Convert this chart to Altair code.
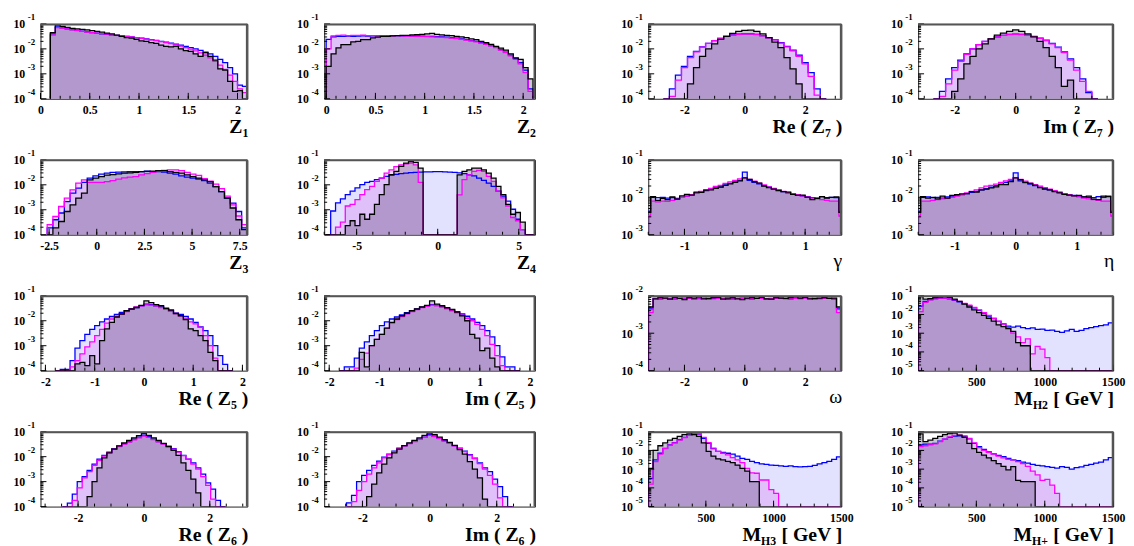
import altair as alt
import pandas as pd

SERIF = "Liberation Serif"

# ---------------- data: log10 of normalised bin contents (-9 = empty bin) ----------------
# Z1 : bins from 0.1, width 0.05
z1_b = [-1.4, -1.12, -1.16, -1.2, -1.23, -1.26, -1.29, -1.32, -1.35, -1.37, -1.4, -1.42, -1.44, -1.46, -1.48, -1.5, -1.52, -1.55, -1.57, -1.6, -1.63, -1.66, -1.7, -1.73, -1.77, -1.81, -1.85, -1.9, -1.95, -2.0, -2.06, -2.13, -2.2, -2.3, -2.42, -2.55, -2.75, -3.0, -3.45, -3.5]
z1_m = [-1.45, -1.15, -1.17, -1.2, -1.24, -1.27, -1.3, -1.33, -1.35, -1.37, -1.39, -1.41, -1.44, -1.46, -1.48, -1.5, -1.52, -1.55, -1.58, -1.61, -1.64, -1.67, -1.71, -1.75, -1.79, -1.84, -1.89, -1.95, -2.01, -2.08, -2.16, -2.25, -2.36, -2.5, -2.65, -2.82, -3.05, -3.3, -3.6, -3.75]
z1_k = [-1.35, -1.05, -1.1, -1.14, -1.18, -1.2, -1.22, -1.24, -1.27, -1.3, -1.33, -1.37, -1.4, -1.45, -1.5, -1.55, -1.57, -1.62, -1.68, -1.7, -1.75, -1.78, -1.85, -1.9, -1.92, -1.9, -2.0, -2.07, -2.1, -2.2, -2.3, -2.15, -2.3, -2.45, -2.8, -2.85, -3.3, -3.7, -3.67, -9]
# Z2 : bins from 0, width 0.05
z2_b = [-1.62, -1.52, -1.5, -1.5, -1.49, -1.5, -1.49, -1.48, -1.49, -1.48, -1.48, -1.47, -1.48, -1.47, -1.47, -1.48, -1.47, -1.48, -1.48, -1.49, -1.5, -1.5, -1.51, -1.52, -1.53, -1.55, -1.57, -1.6, -1.63, -1.67, -1.7, -1.75, -1.8, -1.87, -1.93, -2.03, -2.13, -2.25, -2.38, -2.55, -2.85, -3.6]
z2_m = [-2.0, -1.48, -1.46, -1.45, -1.47, -1.46, -1.46, -1.45, -1.47, -1.47, -1.48, -1.47, -1.48, -1.48, -1.47, -1.48, -1.49, -1.49, -1.5, -1.5, -1.51, -1.52, -1.53, -1.54, -1.55, -1.57, -1.59, -1.62, -1.65, -1.68, -1.72, -1.77, -1.82, -1.88, -1.95, -2.05, -2.15, -2.28, -2.42, -2.6, -2.95, -3.7]
z2_k = [-2.7, -2.2, -1.96, -1.83, -1.83, -1.72, -1.7, -1.63, -1.63, -1.56, -1.53, -1.5, -1.5, -1.48, -1.47, -1.46, -1.46, -1.44, -1.43, -1.42, -1.4, -1.38, -1.42, -1.44, -1.46, -1.47, -1.5, -1.52, -1.55, -1.6, -1.63, -1.7, -1.75, -1.82, -1.9, -1.97, -2.05, -2.2, -2.36, -2.42, -2.75, -3.2]
# Re(Z7), Im(Z7) : bins from -2.7, width 0.2
re7_b = [-9, -3.6, -3.05, -2.7, -2.3, -2.1, -1.92, -1.78, -1.67, -1.58, -1.5, -1.44, -1.41, -1.4, -1.4, -1.42, -1.47, -1.55, -1.63, -1.75, -1.9, -2.05, -2.25, -2.55, -2.95, -3.6, -9]
re7_m = [-9, -3.9, -3.25, -2.75, -2.35, -2.12, -1.93, -1.78, -1.67, -1.58, -1.5, -1.45, -1.42, -1.41, -1.41, -1.43, -1.48, -1.56, -1.64, -1.77, -1.92, -2.08, -2.3, -2.6, -3.1, -3.85, -9]
re7_k = [-9, -9, -9, -9, -3.4, -2.75, -2.3, -2.0, -1.8, -1.62, -1.5, -1.38, -1.3, -1.26, -1.25, -1.3, -1.4, -1.55, -1.73, -1.95, -2.35, -2.8, -3.4, -9, -9, -9, -9]
im7_b = [-9, -3.7, -3.2, -2.75, -2.45, -2.2, -2.0, -1.83, -1.7, -1.6, -1.52, -1.46, -1.42, -1.41, -1.42, -1.45, -1.5, -1.57, -1.65, -1.78, -1.93, -2.12, -2.4, -2.75, -3.2, -3.75, -9]
im7_m = [-9, -3.9, -3.4, -2.85, -2.5, -2.22, -2.0, -1.83, -1.7, -1.6, -1.52, -1.46, -1.43, -1.42, -1.43, -1.46, -1.51, -1.58, -1.67, -1.8, -1.95, -2.15, -2.45, -2.85, -3.3, -3.7, -9]
im7_k = [-9, -9, -9, -3.7, -3.2, -2.6, -2.3, -2.0, -1.8, -1.6, -1.45, -1.37, -1.3, -1.24, -1.3, -1.4, -1.52, -1.7, -1.95, -2.3, -2.75, -3.5, -3.25, -9, -9, -9, -9]
# Z3 : bins from -2.6, width 0.3
z3_b = [-3.73, -3.4, -3.13, -2.67, -2.33, -2.13, -1.9, -1.73, -1.64, -1.57, -1.53, -1.5, -1.49, -1.48, -1.47, -1.47, -1.47, -1.45, -1.47, -1.47, -1.49, -1.53, -1.57, -1.64, -1.69, -1.73, -1.77, -1.83, -1.93, -2.07, -2.27, -2.53, -2.73, -3.07, -3.73]
z3_m = [-3.6, -3.27, -2.87, -2.53, -2.2, -1.93, -1.8, -1.9, -1.9, -1.9, -1.87, -1.83, -1.77, -1.72, -1.69, -1.67, -1.6, -1.55, -1.5, -1.45, -1.42, -1.4, -1.4, -1.43, -1.5, -1.57, -1.62, -1.75, -1.85, -1.97, -2.15, -2.45, -2.8, -3.25, -3.6]
z3_k = [-9, -3.73, -3.47, -3.07, -2.8, -2.53, -2.33, -1.8, -1.73, -1.67, -1.61, -1.59, -1.56, -1.53, -1.52, -1.5, -1.47, -1.46, -1.45, -1.43, -1.43, -1.47, -1.5, -1.53, -1.6, -1.67, -1.73, -1.8, -1.87, -2.07, -2.27, -2.53, -2.93, -3.4, -3.8]
# Z4 : bins from -6.9, width 0.3
z4_b = [-9, -3.05, -2.72, -2.56, -2.39, -2.25, -2.12, -1.99, -1.9, -1.86, -1.79, -1.73, -1.66, -1.61, -1.58, -1.55, -1.53, -1.51, -1.5, -1.49, -1.48, -1.48, -1.47, -1.47, -1.48, -1.49, -1.5, -1.52, -1.55, -1.6, -1.64, -1.73, -1.82, -1.93, -2.06, -2.25, -2.45, -2.65, -2.98, -3.38, -3.8, -9, -9]
z4_m = [-9, -9, -3.7, -3.5, -2.85, -2.78, -2.59, -2.39, -2.19, -2.06, -1.86, -1.73, -1.53, -1.4, -1.27, -1.2, -1.16, -1.13, -1.2, -1.9, -9, -9, -9, -9, -9, -9, -9, -2.4, -1.79, -1.6, -1.46, -1.42, -1.46, -1.66, -1.86, -2.25, -2.52, -2.85, -3.31, -3.44, -3.8, -9, -9]
z4_k = [-9, -9, -9, -9, -3.64, -3.44, -3.64, -3.18, -3.38, -3.18, -2.78, -2.39, -1.99, -1.59, -1.46, -1.26, -1.13, -1.07, -1.1, -1.33, -9, -9, -9, -9, -9, -9, -9, -1.6, -1.46, -1.4, -1.33, -1.33, -1.4, -1.53, -1.73, -2.06, -2.39, -2.78, -3.18, -3.11, -3.5, -9, -9]
# gamma, eta : bins from -1.64, width 0.08
ga_b = [-2.37, -2.0, -2.01, -2.0, -2.02, -2.01, -2.03, -2.0, -1.97, -1.93, -1.88, -1.85, -1.82, -1.79, -1.75, -1.72, -1.67, -1.63, -1.59, -1.55, -1.33, -1.55, -1.6, -1.64, -1.69, -1.72, -1.77, -1.8, -1.85, -1.88, -1.91, -1.94, -1.96, -1.98, -2.01, -2.02, -1.98, -2.01, -2.0, -2.01, -2.37]
ga_m = [-2.5, -2.1, -2.12, -2.1, -2.11, -2.08, -2.05, -2.0, -1.97, -1.93, -1.88, -1.84, -1.8, -1.76, -1.71, -1.68, -1.63, -1.59, -1.55, -1.51, -1.48, -1.52, -1.57, -1.62, -1.67, -1.72, -1.76, -1.8, -1.84, -1.87, -1.9, -1.93, -1.96, -1.99, -2.02, -2.04, -2.06, -2.08, -2.1, -2.1, -2.5]
ga_k = [-2.4, -1.98, -2.08, -2.03, -2.06, -1.99, -2.05, -1.96, -1.92, -1.94, -1.86, -1.87, -1.81, -1.8, -1.76, -1.73, -1.68, -1.64, -1.6, -1.56, -1.48, -1.52, -1.58, -1.62, -1.7, -1.74, -1.78, -1.82, -1.85, -1.86, -1.92, -1.95, -1.94, -2.0, -2.06, -2.03, -1.98, -2.02, -2.0, -1.99, -2.4]
et_b = [-2.37, -2.0, -1.99, -2.01, -2.0, -2.02, -1.99, -1.97, -1.95, -1.93, -1.9, -1.87, -1.84, -1.8, -1.77, -1.73, -1.69, -1.65, -1.6, -1.56, -1.35, -1.56, -1.61, -1.65, -1.69, -1.73, -1.77, -1.8, -1.84, -1.87, -1.9, -1.93, -1.95, -1.97, -1.99, -2.0, -2.01, -1.98, -2.0, -1.97, -2.37]
et_m = [-2.5, -2.1, -2.1, -2.08, -2.06, -2.04, -2.02, -2.0, -1.97, -1.93, -1.88, -1.84, -1.8, -1.75, -1.7, -1.68, -1.65, -1.6, -1.56, -1.52, -1.48, -1.52, -1.57, -1.62, -1.66, -1.7, -1.74, -1.78, -1.82, -1.86, -1.9, -1.93, -1.96, -1.99, -2.02, -2.04, -2.06, -2.08, -2.1, -2.1, -2.5]
et_k = [-2.4, -1.98, -2.02, -2.0, -2.04, -1.97, -2.02, -1.95, -1.93, -1.91, -1.9, -1.85, -1.86, -1.8, -1.78, -1.75, -1.72, -1.66, -1.66, -1.58, -1.48, -1.53, -1.6, -1.63, -1.68, -1.74, -1.78, -1.8, -1.85, -1.88, -1.92, -1.94, -1.96, -1.95, -1.99, -1.97, -2.05, -2.06, -1.97, -1.98, -2.4]
# Re(Z5), Im(Z5) : bins from -1.8, width 0.1
re5_b = [-9, -3.95, -3.95, -3.6, -3.1, -2.8, -2.55, -2.35, -2.2, -2.05, -1.93, -1.83, -1.75, -1.67, -1.6, -1.52, -1.47, -1.4, -1.33, -1.35, -1.4, -1.45, -1.52, -1.6, -1.7, -1.75, -1.83, -1.93, -2.07, -2.25, -2.4, -2.6, -3.0, -3.4, -3.75, -9]
re5_m = [-9, -9, -9, -3.85, -3.6, -3.33, -3.05, -2.85, -2.6, -2.35, -2.1, -1.93, -1.83, -1.73, -1.63, -1.53, -1.45, -1.4, -1.36, -1.37, -1.4, -1.47, -1.53, -1.62, -1.71, -1.8, -1.93, -2.05, -2.13, -2.27, -2.6, -3.0, -3.5, -9, -9, -9]
re5_k = [-9, -9, -9, -9, -3.73, -3.67, -3.8, -3.4, -3.73, -2.8, -2.33, -2.07, -1.85, -1.73, -1.6, -1.53, -1.47, -1.38, -1.2, -1.27, -1.35, -1.4, -1.5, -1.57, -1.71, -1.8, -1.95, -2.33, -2.4, -2.6, -2.8, -3.27, -3.6, -9, -9, -9]
im5_b = [-9, -3.85, -3.85, -3.5, -3.1, -2.85, -2.6, -2.4, -2.2, -2.05, -1.93, -1.85, -1.77, -1.68, -1.6, -1.53, -1.46, -1.4, -1.35, -1.38, -1.43, -1.5, -1.57, -1.65, -1.73, -1.82, -1.93, -2.07, -2.2, -2.4, -2.65, -3.0, -3.45, -3.85, -3.85, -9]
im5_m = [-9, -9, -9, -3.9, -3.55, -3.3, -3.0, -2.75, -2.55, -2.3, -2.1, -1.95, -1.83, -1.72, -1.63, -1.55, -1.47, -1.42, -1.37, -1.4, -1.45, -1.52, -1.6, -1.68, -1.78, -1.9, -2.0, -2.15, -2.35, -2.6, -2.95, -3.4, -3.8, -9, -9, -9]
im5_k = [-9, -9, -9, -9, -3.27, -3.85, -3.0, -2.75, -2.55, -2.3, -2.07, -1.93, -1.8, -1.7, -1.6, -1.53, -1.45, -1.38, -1.2, -1.33, -1.4, -1.48, -1.55, -1.65, -1.8, -2.0, -2.55, -2.7, -3.2, -3.1, -3.5, -3.85, -9, -9, -9, -9]
# omega : bins from -3.2, width 0.16
om_b = [-2.35, -2.07, -2.08, -2.06, -2.07, -2.08, -2.07, -2.06, -2.07, -2.08, -2.06, -2.07, -2.08, -2.07, -2.06, -2.07, -2.09, -2.08, -2.07, -2.06, -2.07, -2.08, -2.07, -2.06, -2.08, -2.09, -2.07, -2.06, -2.07, -2.08, -2.07, -2.06, -2.05, -2.07, -2.08, -2.07, -2.06, -2.07, -2.08, -2.35]
om_m = [-2.45, -2.08, -2.07, -2.07, -2.08, -2.06, -2.07, -2.08, -2.07, -2.07, -2.08, -2.06, -2.07, -2.08, -2.07, -2.07, -2.06, -2.08, -2.07, -2.07, -2.08, -2.07, -2.06, -2.07, -2.08, -2.07, -2.07, -2.06, -2.08, -2.07, -2.07, -2.08, -2.06, -2.07, -2.07, -2.08, -2.07, -2.06, -2.07, -2.45]
om_k = [-2.3, -2.08, -2.05, -2.06, -2.09, -2.04, -2.07, -2.1, -2.05, -2.06, -2.03, -2.08, -2.07, -2.05, -2.04, -2.09, -2.06, -2.05, -2.08, -2.1, -2.06, -2.05, -2.07, -2.04, -2.08, -2.09, -2.05, -2.06, -2.07, -2.05, -2.03, -2.06, -2.04, -2.08, -2.07, -2.06, -2.05, -2.07, -2.06, -2.3]
# M_H2, M_H3, M_H+ : bins from 75 GeV, width 35.625 GeV
mh2_b = [-1.55, -1.3, -1.2, -1.15, -1.12, -1.13, -1.17, -1.24, -1.32, -1.42, -1.53, -1.65, -1.78, -1.92, -2.08, -2.22, -2.37, -2.5, -2.62, -2.68, -2.62, -2.7, -2.75, -2.72, -2.8, -2.78, -2.85, -2.83, -2.9, -2.95, -2.88, -2.8, -2.9, -2.85, -2.75, -2.7, -2.65, -2.6, -2.55, -2.45]
mh2_m = [-1.85, -1.35, -1.22, -1.16, -1.13, -1.13, -1.16, -1.22, -1.3, -1.4, -1.5, -1.62, -1.75, -1.9, -2.05, -2.2, -2.36, -2.52, -2.7, -3.0, -3.2, -3.5, -3.3, -4.1, -3.7, -3.85, -4.3, -9, -9, -9, -9, -9, -9, -9, -9, -9, -9, -9, -9, -9]
mh2_k = [-1.05, -1.18, -1.15, -1.1, -1.07, -1.05, -1.08, -1.18, -1.3, -1.45, -1.6, -1.75, -1.9, -2.05, -2.2, -2.35, -2.55, -2.65, -2.75, -2.9, -3.5, -3.67, -3.67, -9, -9, -9, -9, -9, -9, -9, -9, -9, -9, -9, -9, -9, -9, -9, -9, -9]
mh3_b = [-3.5, -2.5, -2.15, -1.89, -1.7, -1.58, -1.42, -1.3, -1.18, -1.12, -1.13, -1.35, -1.62, -1.9, -2.05, -2.1, -2.15, -2.2, -2.3, -2.42, -2.48, -2.58, -2.65, -2.72, -2.75, -2.78, -2.8, -2.82, -2.85, -2.83, -2.86, -2.88, -2.86, -2.85, -2.8, -2.72, -2.65, -2.58, -2.48, -2.35]
mh3_m = [-3.8, -2.6, -2.2, -1.9, -1.72, -1.6, -1.45, -1.32, -1.2, -1.12, -1.12, -1.3, -1.58, -1.88, -2.05, -2.15, -2.24, -2.38, -2.51, -2.65, -2.96, -3.2, -3.22, -3.58, -3.58, -4.1, -4.3, -9, -9, -9, -9, -9, -9, -9, -9, -9, -9, -9, -9, -9]
mh3_k = [-2.96, -2.0, -1.75, -1.6, -1.45, -1.35, -1.25, -1.15, -1.12, -1.16, -1.25, -1.6, -2.05, -2.3, -2.45, -2.51, -2.58, -2.65, -2.78, -2.96, -3.1, -3.67, -3.67, -9, -9, -9, -9, -9, -9, -9, -9, -9, -9, -9, -9, -9, -9, -9, -9, -9]
mhp_b = [-1.71, -1.66, -1.66, -1.62, -1.5, -1.4, -1.3, -1.24, -1.22, -1.25, -1.38, -1.62, -1.8, -1.95, -2.08, -2.18, -2.27, -2.33, -2.42, -2.5, -2.55, -2.62, -2.68, -2.75, -2.8, -2.82, -2.86, -2.9, -2.95, -2.87, -2.9, -3.0, -2.92, -2.88, -2.8, -2.75, -2.68, -2.62, -2.5, -2.38]
mhp_m = [-1.8, -1.75, -1.7, -1.65, -1.53, -1.4, -1.28, -1.2, -1.18, -1.22, -1.35, -1.6, -1.85, -2.0, -2.1, -2.2, -2.3, -2.4, -2.48, -2.51, -2.6, -2.7, -2.85, -3.1, -3.31, -3.6, -3.55, -3.85, -4.3, -9, -9, -9, -9, -9, -9, -9, -9, -9, -9, -9]
mhp_k = [-1.12, -1.53, -1.45, -1.35, -1.25, -1.15, -1.1, -1.08, -1.18, -1.3, -1.62, -1.9, -2.1, -2.25, -2.4, -2.55, -2.7, -2.85, -3.04, -2.87, -3.6, -3.67, -3.67, -3.67, -9, -9, -9, -9, -9, -9, -9, -9, -9, -9, -9, -9, -9, -9, -9, -9]
# Re(Z6), Im(Z6) : bins from -2.475, width 0.15
re6_b = [-9, -3.86, -3.5, -3.0, -2.8, -2.55, -2.3, -2.1, -1.95, -1.82, -1.68, -1.58, -1.48, -1.4, -1.3, -1.22, -1.14, -1.2, -1.3, -1.4, -1.48, -1.58, -1.68, -1.8, -1.95, -2.1, -2.25, -2.45, -2.7, -3.05, -3.3, -3.75, -9]
re6_m = [-9, -9, -3.75, -3.25, -2.85, -2.6, -2.35, -2.15, -1.98, -1.84, -1.7, -1.6, -1.5, -1.42, -1.33, -1.25, -1.18, -1.23, -1.32, -1.41, -1.5, -1.6, -1.7, -1.82, -1.96, -2.1, -2.3, -2.5, -2.8, -3.15, -3.7, -9, -9]
re6_k = [-9, -9, -9, -9, -9, -3.6, -3.0, -2.45, -2.05, -1.85, -1.7, -1.57, -1.45, -1.35, -1.25, -1.16, -1.07, -1.15, -1.25, -1.35, -1.47, -1.6, -1.75, -1.95, -2.25, -2.55, -2.9, -3.45, -9, -9, -9, -9, -9]
im6_b = [-3.85, -3.55, -3.0, -2.75, -2.55, -2.35, -2.18, -2.02, -1.9, -1.78, -1.66, -1.56, -1.47, -1.38, -1.3, -1.22, -1.12, -1.18, -1.27, -1.36, -1.45, -1.56, -1.66, -1.78, -1.92, -2.06, -2.25, -2.45, -2.6, -2.9, -3.2, -3.6, -9]
im6_m = [-9, -3.8, -3.35, -3.0, -2.7, -2.45, -2.25, -2.05, -1.92, -1.8, -1.68, -1.57, -1.48, -1.4, -1.31, -1.23, -1.15, -1.2, -1.28, -1.38, -1.47, -1.57, -1.68, -1.8, -1.94, -2.08, -2.28, -2.5, -2.75, -3.1, -3.65, -9, -9]
im6_k = [-9, -9, -9, -9, -3.6, -3.1, -2.65, -2.3, -2.05, -1.85, -1.7, -1.56, -1.45, -1.35, -1.25, -1.15, -1.06, -1.12, -1.22, -1.32, -1.43, -1.55, -1.72, -1.9, -2.2, -2.5, -2.85, -3.7, -9, -9, -9, -9, -9]

# ---------------- panel descriptions ----------------
P = [
    dict(t=[("Z", "m"), ("1", "s")], dom=[0, 2.1], lab=[0, 0.5, 1, 1.5, 2], mi=0.1, yr=(-4, -1), st=0.1, bw=0.05, s=(z1_b, z1_m, z1_k)),
    dict(t=[("Z", "m"), ("2", "s")], dom=[-0.02, 2.12], lab=[0, 0.5, 1, 1.5, 2], mi=0.1, yr=(-4, -1), st=0.0, bw=0.05, s=(z2_b, z2_m, z2_k)),
    dict(t=[("Re ( Z", "m"), ("7", "s"), (" )", "m")], dom=[-3.2, 3.2], lab=[-2, 0, 2], mi=0.5, yr=(-4, -1), st=-2.7, bw=0.2, s=(re7_b, re7_m, re7_k)),
    dict(t=[("Im ( Z", "m"), ("7", "s"), (" )", "m")], dom=[-3.2, 3.2], lab=[-2, 0, 2], mi=0.5, yr=(-4, -1), st=-2.7, bw=0.2, s=(im7_b, im7_m, im7_k)),
    dict(t=[("Z", "m"), ("3", "s")], dom=[-2.95, 7.9], lab=[-2.5, 0, 2.5, 5, 7.5], mi=0.5, yr=(-4, -1), st=-2.6, bw=0.3, s=(z3_b, z3_m, z3_k)),
    dict(t=[("Z", "m"), ("4", "s")], dom=[-7, 6], lab=[-5, 0, 5], mi=1, yr=(-4, -1), st=-6.9, bw=0.3, s=(z4_b, z4_m, z4_k)),
    dict(t=[("γ", "g")], dom=[-1.6, 1.6], lab=[-1, 0, 1], mi=0.2, yr=(-3, -1), st=-1.64, bw=0.08, s=(ga_b, ga_m, ga_k)),
    dict(t=[("η", "g")], dom=[-1.6, 1.6], lab=[-1, 0, 1], mi=0.2, yr=(-3, -1), st=-1.64, bw=0.08, s=(et_b, et_m, et_k)),
    dict(t=[("Re ( Z", "m"), ("5", "s"), (" )", "m")], dom=[-2.1, 2.1], lab=[-2, -1, 0, 1, 2], mi=0.2, yr=(-4, -1), st=-1.8, bw=0.1, s=(re5_b, re5_m, re5_k)),
    dict(t=[("Im ( Z", "m"), ("5", "s"), (" )", "m")], dom=[-2.1, 2.1], lab=[-2, -1, 0, 1, 2], mi=0.2, yr=(-4, -1), st=-1.8, bw=0.1, s=(im5_b, im5_m, im5_k)),
    dict(t=[("ω", "g")], dom=[-3.2, 3.2], lab=[-2, 0, 2], mi=0.5, yr=(-4, -2), st=-3.2, bw=0.16, s=(om_b, om_m, om_k)),
    dict(t=[("M", "m"), ("H2", "s"), (" [ GeV ]", "m")], dom=[75, 1500], lab=[500, 1000, 1500], mi=100, yr=(-5, -1), st=75, bw=35.625, s=(mh2_b, mh2_m, mh2_k)),
    dict(t=[("Re ( Z", "m"), ("6", "s"), (" )", "m")], dom=[-3.14, 3.14], lab=[-2, 0, 2], mi=0.5, yr=(-4, -1), st=-2.475, bw=0.15, s=(re6_b, re6_m, re6_k)),
    dict(t=[("Im ( Z", "m"), ("6", "s"), (" )", "m")], dom=[-3.14, 3.14], lab=[-2, 0, 2], mi=0.5, yr=(-4, -1), st=-2.475, bw=0.15, s=(im6_b, im6_m, im6_k)),
    dict(t=[("M", "m"), ("H3", "s"), (" [ GeV ]", "m")], dom=[75, 1500], lab=[500, 1000, 1500], mi=100, yr=(-5, -1), st=75, bw=35.625, s=(mh3_b, mh3_m, mh3_k)),
    dict(t=[("M", "m"), ("H+", "s"), (" [ GeV ]", "m")], dom=[75, 1500], lab=[500, 1000, 1500], mi=100, yr=(-5, -1), st=75, bw=35.625, s=(mhp_b, mhp_m, mhp_k)),
]

WIDTHS = [210, 214, 196, 198]
H = 76
EXT_L, EXT_R, EXT_T, EXT_B = 30, 12, 11, 44      # fixed outer box of every panel
LINE = ["#0000ff", "#ff00ff", "#000000"]
FILL = [("#6060ff", 0.18), ("#dc3cdc", 0.2), ("#281e46", 0.25)]
CW = {"R": .722, "e": .444, " ": .25, "(": .333, ")": .333, "Z": .667, "I": .389, "m": .833,
      "M": .944, "H": .778, "+": .570, "[": .333, "]": .333, "G": .778, "V": .722}
one = pd.DataFrame({"a": [0]})


def tw(s, size):
    return sum(CW.get(c, 0.5) for c in s) * size


def hist_frames(start, bw, exps, ymin):
    area, line = [], [dict(i=0, x=start, y=ymin)]
    for k, e in enumerate(exps):
        v = max(10.0 ** e, ymin)
        area.append(dict(x=start + k * bw, y=v, b=ymin))
        line.append(dict(i=k + 1, x=start + k * bw, y=v))
    n = len(exps)
    area.append(dict(x=start + n * bw, y=max(10.0 ** exps[-1], ymin), b=ymin))
    line.append(dict(i=n + 1, x=start + n * bw, y=ymin))
    return pd.DataFrame(area), pd.DataFrame(line)


def panel(p, W):
    lo_e, hi_e = p["yr"]
    lo, hi = 10.0 ** lo_e, 10.0 ** hi_e
    decades = [10.0 ** d for d in range(lo_e, hi_e + 1)]
    xs = alt.Scale(domain=p["dom"], nice=False, zero=False)
    ys = alt.Scale(type="log", domain=[lo, hi], nice=False)
    xax = alt.Axis(values=p["lab"], labelExpr="toString(datum.value)", ticks=False, domain=False,
                   grid=False, title=None, labelFont=SERIF, labelFontWeight="bold", labelFontSize=12,
                   labelColor="black", labelPadding=6, labelFlush=False, labelOverlap=False)
    yax = alt.Axis(values=decades, labelExpr="'10'", ticks=False, domain=False, grid=False, title=None,
                   labelFont=SERIF, labelFontWeight="bold", labelFontSize=12, labelColor="black",
                   labelPadding=16, labelFlush=False, labelOverlap=False, labelBaseline="middle")

    def X(f):
        return alt.X(f, type="quantitative", scale=xs, axis=xax)

    def Y(f):
        return alt.Y(f, type="quantitative", scale=ys, axis=yax)

    layers = [alt.Chart(one).mark_rect(opacity=0).encode(
        x=alt.value(-EXT_L), x2=alt.value(W + EXT_R), y=alt.value(-EXT_T), y2=alt.value(H + EXT_B))]
    frames = [hist_frames(p["st"], p["bw"], s, lo) for s in p["s"]]
    for (adf, _), (fc, op) in zip(frames, FILL):
        layers.append(alt.Chart(adf).mark_area(interpolate="step-after", color=fc, opacity=op, clip=True)
                      .encode(x=X("x"), y=Y("y"), y2="b"))
    for (_, ldf), lc in zip(frames, LINE):
        layers.append(alt.Chart(ldf).mark_line(interpolate="step-after", color=lc, strokeWidth=1.3, clip=True)
                      .encode(x=X("x"), y=Y("y"), order="i:Q"))
    # inward ticks
    a, b = p["dom"]
    mi = p["mi"]
    minor_x = [round(k * mi, 6) for k in range(int(a / mi) - 1, int(b / mi) + 2) if a <= k * mi <= b]
    layers.append(alt.Chart(pd.DataFrame({"x": minor_x})).mark_rule(color="black", strokeWidth=1)
                  .encode(x=X("x"), y=alt.value(H), y2=alt.value(H - 3)))
    layers.append(alt.Chart(pd.DataFrame({"x": p["lab"]})).mark_rule(color="black", strokeWidth=1)
                  .encode(x=X("x"), y=alt.value(H), y2=alt.value(H - 6)))
    minor_y = [m * 10.0 ** d for d in range(lo_e, hi_e) for m in range(2, 10)]
    layers.append(alt.Chart(pd.DataFrame({"y": minor_y})).mark_rule(color="black", strokeWidth=1)
                  .encode(y=Y("y"), x=alt.value(0), x2=alt.value(3)))
    layers.append(alt.Chart(pd.DataFrame({"y": decades})).mark_rule(color="black", strokeWidth=1)
                  .encode(y=Y("y"), x=alt.value(0), x2=alt.value(6)))
    # heavier grey top / right frame edges
    layers.append(alt.Chart(one).mark_rule(color="#555555", strokeWidth=2)
                  .encode(x=alt.value(0), x2=alt.value(W), y=alt.value(0.5)))
    layers.append(alt.Chart(one).mark_rule(color="#555555", strokeWidth=2)
                  .encode(x=alt.value(W - 0.5), y=alt.value(0), y2=alt.value(H)))
    # exponents of the decade labels
    ex = pd.DataFrame({"y": decades, "t": [str(d) for d in range(lo_e, hi_e + 1)]})
    layers.append(alt.Chart(ex).mark_text(align="left", baseline="middle", dy=-7, font=SERIF,
                                          fontSize=9, fontWeight="bold", color="black")
                  .encode(x=alt.value(-13), y=Y("y"), text="t:N"))
    # axis title with subscript
    xr = W + 1
    for text, kind in reversed(p["t"]):
        if kind == "s":
            size, dy, wt = 12, 4, "bold"
        elif kind == "g":
            size, dy, wt = 20, -2, "normal"
        else:
            size, dy, wt = 20, 0, "bold"
        layers.append(alt.Chart(one).mark_text(align="right", baseline="alphabetic", font=SERIF,
                                               fontSize=size, fontWeight=wt, dy=dy, color="black")
                      .encode(x=alt.value(xr), y=alt.value(H + 35), text=alt.value(text)))
        xr -= tw(text, size)
    return alt.layer(*layers).properties(width=W, height=H)


rows = []
for r in range(4):
    ps = [panel(P[4 * r + c], WIDTHS[c]) for c in range(4)]
    left = alt.hconcat(ps[0], ps[1], spacing=34).resolve_scale(x="independent", y="independent")
    right = alt.hconcat(ps[2], ps[3], spacing=34).resolve_scale(x="independent", y="independent")
    rows.append(alt.hconcat(left, right, spacing=71).resolve_scale(x="independent", y="independent"))

chart = (alt.vconcat(*rows, spacing=5)
         .resolve_scale(x="independent", y="independent")
         .properties(padding={"left": 2, "top": 0, "right": 0, "bottom": 0}, background="white")
         .configure_view(stroke="#222222", strokeWidth=1))

chart.save("out.html", embed_options={"renderer": "svg", "actions": False})
